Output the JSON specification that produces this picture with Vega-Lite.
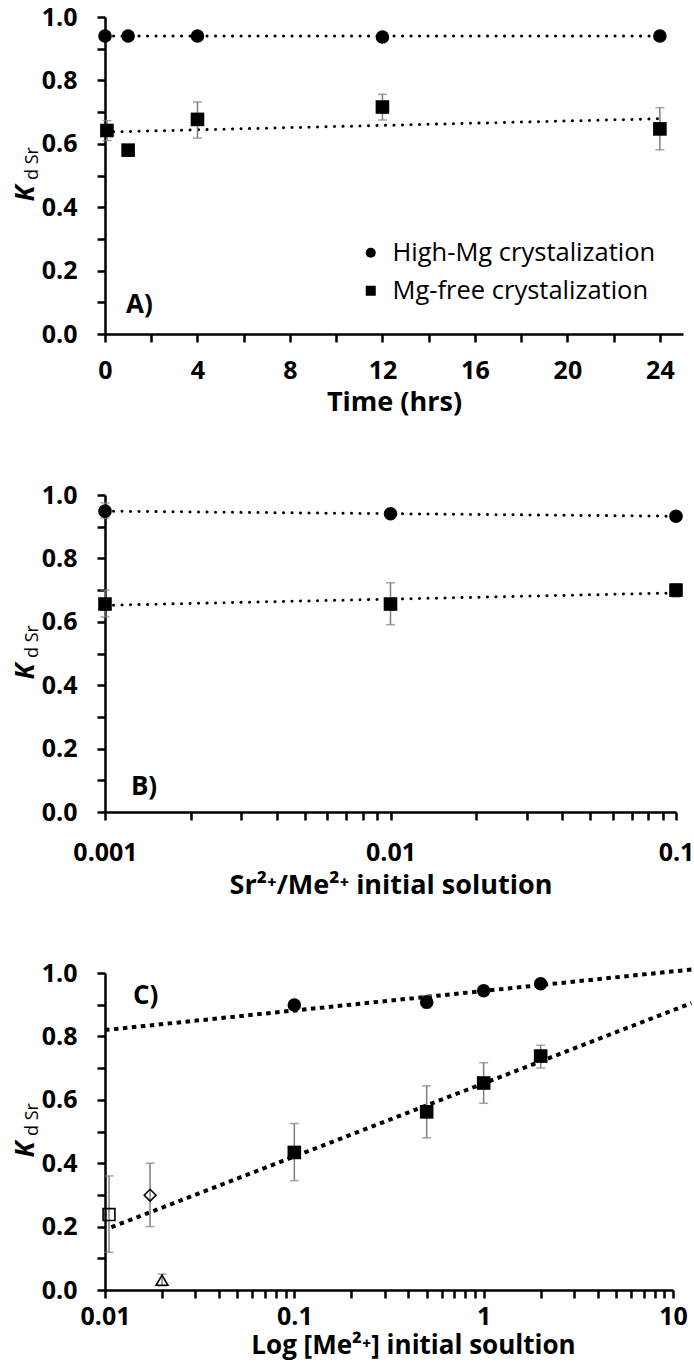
{
  "$schema": "https://vega.github.io/schema/vega-lite/v6.json",
  "background": "white",
  "padding": {"left": 12, "top": 5, "right": 0, "bottom": 4},
  "config": {
    "view": {"stroke": null},
    "font": "Open Sans",
    "axis": {
      "labelFont": "Open Sans", "labelFontWeight": "bold", "labelFontSize": 25, "labelColor": "black",
      "titleFont": "Open Sans", "titleFontWeight": "bold", "titleFontSize": 27, "titleColor": "black",
      "domainColor": "black", "domainWidth": 2.5, "tickColor": "black", "tickWidth": 2.5, "tickSize": 8,
      "grid": false, "labelOverlap": false, "labelFlush": false, "labelBound": false
    }
  },
  "datasets": {
    "a_pts": [
      {"series": "High-Mg crystalization", "x": 0, "y": 0.94},
      {"series": "High-Mg crystalization", "x": 1, "y": 0.94},
      {"series": "High-Mg crystalization", "x": 4, "y": 0.94},
      {"series": "High-Mg crystalization", "x": 12, "y": 0.937},
      {"series": "High-Mg crystalization", "x": 24, "y": 0.94},
      {"series": "Mg-free crystalization", "x": 0.083, "y": 0.642, "lo": 0.61, "hi": 0.673},
      {"series": "Mg-free crystalization", "x": 1, "y": 0.58},
      {"series": "Mg-free crystalization", "x": 4, "y": 0.677, "lo": 0.618, "hi": 0.732},
      {"series": "Mg-free crystalization", "x": 12, "y": 0.716, "lo": 0.675, "hi": 0.756},
      {"series": "Mg-free crystalization", "x": 24, "y": 0.647, "lo": 0.581, "hi": 0.714}
    ],
    "a_trend": [
      {"series": "High-Mg", "x": 0, "y": 0.94},
      {"series": "High-Mg", "x": 24, "y": 0.94},
      {"series": "Mg-free", "x": 0, "y": 0.637},
      {"series": "Mg-free", "x": 24, "y": 0.679}
    ],
    "b_pts": [
      {"series": "High-Mg crystalization", "x": 0.001, "y": 0.949, "lo": 0.927, "hi": 0.975},
      {"series": "High-Mg crystalization", "x": 0.01, "y": 0.941},
      {"series": "High-Mg crystalization", "x": 0.1, "y": 0.933},
      {"series": "Mg-free crystalization", "x": 0.001, "y": 0.656, "lo": 0.615, "hi": 0.7},
      {"series": "Mg-free crystalization", "x": 0.01, "y": 0.656, "lo": 0.591, "hi": 0.723},
      {"series": "Mg-free crystalization", "x": 0.1, "y": 0.7, "lo": 0.678, "hi": 0.72}
    ],
    "b_trend": [
      {"series": "High-Mg", "x": 0.001, "y": 0.949},
      {"series": "High-Mg", "x": 0.1, "y": 0.933},
      {"series": "Mg-free", "x": 0.001, "y": 0.652},
      {"series": "Mg-free", "x": 0.1, "y": 0.691}
    ],
    "c_pts": [
      {"kind": "High-Mg", "x": 0.1, "y": 0.899},
      {"kind": "High-Mg", "x": 0.5, "y": 0.908, "lo": 0.89, "hi": 0.929},
      {"kind": "High-Mg", "x": 1, "y": 0.944},
      {"kind": "High-Mg", "x": 2, "y": 0.966},
      {"kind": "Mg-free", "x": 0.1, "y": 0.434, "lo": 0.345, "hi": 0.525},
      {"kind": "Mg-free", "x": 0.5, "y": 0.562, "lo": 0.48, "hi": 0.644},
      {"kind": "Mg-free", "x": 1, "y": 0.653, "lo": 0.589, "hi": 0.717},
      {"kind": "Mg-free", "x": 2, "y": 0.738, "lo": 0.7, "hi": 0.772},
      {"kind": "sq", "x": 0.0105, "y": 0.238, "lo": 0.119, "hi": 0.36},
      {"kind": "dia", "x": 0.0173, "y": 0.299, "lo": 0.2, "hi": 0.4},
      {"kind": "tri", "x": 0.02, "y": 0.031, "lo": 0.013, "hi": 0.05}
    ],
    "c_trend": [
      {"series": "High-Mg", "x": 0.01, "y": 0.82},
      {"series": "High-Mg", "x": 12.5, "y": 1.011},
      {"series": "Mg-free", "x": 0.0108, "y": 0.198},
      {"series": "Mg-free", "x": 12.5, "y": 0.905}
    ]
  },
  "vconcat": [
    {
      "width": 578, "height": 317,
      "resolve": {"axis": {"y": "independent"}},
      "layer": [
        {
          "data": {"name": "a_trend"},
          "mark": {"type": "line", "color": "black", "strokeWidth": 3, "strokeDash": [0.1, 8.4], "strokeCap": "round"},
          "encoding": {
            "x": {"field": "x", "type": "quantitative", "scale": {"domain": [0, 25], "nice": false, "zero": false},
              "axis": {"title": "Time (hrs)", "values": [0, 2, 4, 6, 8, 10, 12, 14, 16, 18, 20, 22, 24],
                "labelExpr": "datum.value % 4 === 0 ? datum.label : ''", "labelPadding": 16, "titlePadding": 6}},
            "y": {"field": "y", "type": "quantitative", "scale": {"domain": [0, 1], "nice": false},
              "axis": {"orient": "left", "values": [0, 0.1, 0.2, 0.3, 0.4, 0.5, 0.6, 0.7, 0.8, 0.9, 1],
                "labelExpr": "indexof([0, 0.2, 0.4, 0.6, 0.8, 1], datum.value) >= 0 ? format(datum.value, '.1f') : ''",
                "labelPadding": 20, "title": "K", "titleFontStyle": "italic", "titleFontSize": 26,
                "titleX": -71.5, "titleY": 176, "titleAngle": 270, "titleAlign": "center", "titleBaseline": "alphabetic"}},
            "detail": {"field": "series"}
          }
        },
        {
          "data": {"name": "a_pts"},
          "transform": [{"filter": "isValid(datum.lo)"}],
          "mark": {"type": "rule", "color": "#7f7f7f", "strokeWidth": 1.5},
          "encoding": {
            "x": {"field": "x", "type": "quantitative"},
            "y": {"field": "lo", "type": "quantitative",
              "axis": {"orient": "left", "labels": false, "ticks": false, "domain": false, "title": "d Sr",
                "titleFontSize": 18, "titleFontWeight": "normal", "titleX": -68, "titleY": 146,
                "titleAngle": 270, "titleAlign": "center", "titleBaseline": "alphabetic"}},
            "y2": {"field": "hi"}
          }
        },
        {
          "data": {"name": "a_pts"},
          "transform": [{"filter": "isValid(datum.lo)"}, {"fold": ["lo", "hi"], "as": ["end", "v"]}],
          "mark": {"type": "tick", "orient": "horizontal", "color": "#7f7f7f", "size": 9, "thickness": 1.5},
          "encoding": {
            "x": {"field": "x", "type": "quantitative"},
            "y": {"field": "v", "type": "quantitative", "axis": null}
          }
        },
        {
          "data": {"name": "a_pts"},
          "mark": {"type": "point", "filled": true, "color": "black", "size": 185, "opacity": 1},
          "encoding": {
            "x": {"field": "x", "type": "quantitative"},
            "y": {"field": "y", "type": "quantitative", "axis": null},
            "shape": {"field": "series", "type": "nominal",
              "scale": {"domain": ["High-Mg crystalization", "Mg-free crystalization"], "range": ["circle", "square"]},
              "legend": {"orient": "none", "legendX": 253, "legendY": 223, "title": null, "padding": 0,
                "labelFont": "Open Sans", "labelFontSize": 25.5, "labelFontWeight": "normal", "labelColor": "black", "labelLimit": 0,
                "symbolSize": 100, "symbolFillColor": "black", "symbolStrokeColor": "black", "symbolStrokeWidth": 0,
                "symbolOpacity": 1, "rowPadding": 11, "labelOffset": 9}}
          }
        },
        {
          "data": {"values": [{}]},
          "mark": {"type": "text", "font": "Open Sans", "fontWeight": "bold", "fontSize": 26, "color": "black", "align": "center", "baseline": "middle"},
          "encoding": {
            "x": {"datum": 1.49, "type": "quantitative"},
            "y": {"datum": 0.09, "type": "quantitative", "axis": null},
            "text": {"value": "A)"}
          }
        }
      ]
    },
    {
      "width": 571, "height": 317,
      "resolve": {"axis": {"y": "independent"}},
      "layer": [
        {
          "data": {"name": "b_trend"},
          "mark": {"type": "line", "color": "black", "strokeWidth": 3, "strokeDash": [0.1, 8.4], "strokeCap": "round"},
          "encoding": {
            "x": {"field": "x", "type": "quantitative", "scale": {"type": "log", "domain": [0.001, 0.1], "nice": false},
              "axis": {"title": "Sr²⁺/Me²⁺ initial solution",
                "values": [0.001, 0.002, 0.003, 0.004, 0.005, 0.006, 0.007, 0.008, 0.009, 0.01, 0.02, 0.03, 0.04, 0.05, 0.06, 0.07, 0.08, 0.09, 0.1],
                "labelExpr": "datum.value == 0.001 ? '0.001' : datum.value == 0.01 ? '0.01' : datum.value == 0.1 ? '0.1' : ''",
                "labelPadding": 20, "titlePadding": 7}},
            "y": {"field": "y", "type": "quantitative", "scale": {"domain": [0, 1], "nice": false},
              "axis": {"orient": "left", "values": [0, 0.1, 0.2, 0.3, 0.4, 0.5, 0.6, 0.7, 0.8, 0.9, 1],
                "labelExpr": "indexof([0, 0.2, 0.4, 0.6, 0.8, 1], datum.value) >= 0 ? format(datum.value, '.1f') : ''",
                "labelPadding": 20, "title": "K", "titleFontStyle": "italic", "titleFontSize": 26,
                "titleX": -71.5, "titleY": 176, "titleAngle": 270, "titleAlign": "center", "titleBaseline": "alphabetic"}},
            "detail": {"field": "series"}
          }
        },
        {
          "data": {"name": "b_pts"},
          "transform": [{"filter": "isValid(datum.lo)"}],
          "mark": {"type": "rule", "color": "#7f7f7f", "strokeWidth": 1.5},
          "encoding": {
            "x": {"field": "x", "type": "quantitative"},
            "y": {"field": "lo", "type": "quantitative",
              "axis": {"orient": "left", "labels": false, "ticks": false, "domain": false, "title": "d Sr",
                "titleFontSize": 18, "titleFontWeight": "normal", "titleX": -68, "titleY": 146,
                "titleAngle": 270, "titleAlign": "center", "titleBaseline": "alphabetic"}},
            "y2": {"field": "hi"}
          }
        },
        {
          "data": {"name": "b_pts"},
          "transform": [{"filter": "isValid(datum.lo)"}, {"fold": ["lo", "hi"], "as": ["end", "v"]}],
          "mark": {"type": "tick", "orient": "horizontal", "color": "#7f7f7f", "size": 9, "thickness": 1.5},
          "encoding": {
            "x": {"field": "x", "type": "quantitative"},
            "y": {"field": "v", "type": "quantitative", "axis": null}
          }
        },
        {
          "data": {"name": "b_pts"},
          "mark": {"type": "point", "filled": true, "color": "black", "size": 185, "opacity": 1},
          "encoding": {
            "x": {"field": "x", "type": "quantitative"},
            "y": {"field": "y", "type": "quantitative", "axis": null},
            "shape": {"field": "series", "type": "nominal",
              "scale": {"domain": ["High-Mg crystalization", "Mg-free crystalization"], "range": ["circle", "square"]},
              "legend": null}
          }
        },
        {
          "data": {"values": [{}]},
          "mark": {"type": "text", "font": "Open Sans", "fontWeight": "bold", "fontSize": 26, "color": "black", "align": "center", "baseline": "middle"},
          "encoding": {
            "x": {"datum": 0.00137, "type": "quantitative"},
            "y": {"datum": 0.08, "type": "quantitative", "axis": null},
            "text": {"value": "B)"}
          }
        }
      ]
    },
    {
      "width": 568, "height": 317,
      "resolve": {"axis": {"y": "independent"}},
      "layer": [
        {
          "data": {"name": "c_trend"},
          "mark": {"type": "line", "color": "black", "strokeWidth": 4, "strokeDash": [4.5, 4.5]},
          "encoding": {
            "x": {"field": "x", "type": "quantitative", "scale": {"type": "log", "domain": [0.01, 10], "nice": false},
              "axis": {"title": "Log [Me²⁺] initial soultion",
                "values": [0.01, 0.02, 0.03, 0.04, 0.05, 0.06, 0.07, 0.08, 0.09, 0.1, 0.2, 0.3, 0.4, 0.5, 0.6, 0.7, 0.8, 0.9, 1, 2, 3, 4, 5, 6, 7, 8, 9, 10],
                "labelExpr": "datum.value == 0.01 ? '0.01' : datum.value == 0.1 ? '0.1' : datum.value == 1 ? '1' : datum.value == 10 ? '10' : ''",
                "labelPadding": 6, "titlePadding": 3, "titleFontSize": 26, "titleX": 308}},
            "y": {"field": "y", "type": "quantitative", "scale": {"domain": [0, 1], "nice": false},
              "axis": {"orient": "left", "values": [0, 0.1, 0.2, 0.3, 0.4, 0.5, 0.6, 0.7, 0.8, 0.9, 1],
                "labelExpr": "indexof([0, 0.2, 0.4, 0.6, 0.8, 1], datum.value) >= 0 ? format(datum.value, '.1f') : ''",
                "labelPadding": 20, "title": "K", "titleFontStyle": "italic", "titleFontSize": 26,
                "titleX": -71.5, "titleY": 176, "titleAngle": 270, "titleAlign": "center", "titleBaseline": "alphabetic"}},
            "detail": {"field": "series"}
          }
        },
        {
          "data": {"name": "c_pts"},
          "transform": [{"filter": "isValid(datum.lo)"}],
          "mark": {"type": "rule", "color": "#7f7f7f", "strokeWidth": 1.5},
          "encoding": {
            "x": {"field": "x", "type": "quantitative"},
            "y": {"field": "lo", "type": "quantitative",
              "axis": {"orient": "left", "labels": false, "ticks": false, "domain": false, "title": "d Sr",
                "titleFontSize": 18, "titleFontWeight": "normal", "titleX": -68, "titleY": 146,
                "titleAngle": 270, "titleAlign": "center", "titleBaseline": "alphabetic"}},
            "y2": {"field": "hi"}
          }
        },
        {
          "data": {"name": "c_pts"},
          "transform": [{"filter": "isValid(datum.lo)"}, {"fold": ["lo", "hi"], "as": ["end", "v"]}],
          "mark": {"type": "tick", "orient": "horizontal", "color": "#7f7f7f", "size": 9, "thickness": 1.5},
          "encoding": {
            "x": {"field": "x", "type": "quantitative"},
            "y": {"field": "v", "type": "quantitative", "axis": null}
          }
        },
        {
          "data": {"name": "c_pts"},
          "transform": [{"filter": "datum.kind == 'High-Mg' || datum.kind == 'Mg-free'"}],
          "mark": {"type": "point", "filled": true, "color": "black", "size": 185, "opacity": 1},
          "encoding": {
            "x": {"field": "x", "type": "quantitative"},
            "y": {"field": "y", "type": "quantitative", "axis": null},
            "shape": {"field": "kind", "type": "nominal",
              "scale": {"domain": ["High-Mg", "Mg-free", "sq", "dia", "tri"], "range": ["circle", "square", "square", "diamond", "triangle-up"]},
              "legend": null}
          }
        },
        {
          "data": {"name": "c_pts"},
          "transform": [{"filter": "datum.kind != 'High-Mg' && datum.kind != 'Mg-free'"}],
          "mark": {"type": "point", "filled": false, "color": "black", "size": 140, "strokeWidth": 1.6, "opacity": 1},
          "encoding": {
            "x": {"field": "x", "type": "quantitative"},
            "y": {"field": "y", "type": "quantitative", "axis": null},
            "shape": {"field": "kind", "type": "nominal",
              "scale": {"domain": ["High-Mg", "Mg-free", "sq", "dia", "tri"], "range": ["circle", "square", "square", "diamond", "triangle-up"]},
              "legend": null}
          }
        },
        {
          "data": {"values": [{}]},
          "mark": {"type": "text", "font": "Open Sans", "fontWeight": "bold", "fontSize": 26, "color": "black", "align": "center", "baseline": "middle"},
          "encoding": {
            "x": {"datum": 0.0164, "type": "quantitative"},
            "y": {"datum": 0.926, "type": "quantitative", "axis": null},
            "text": {"value": "C)"}
          }
        }
      ]
    }
  ],
  "spacing": 161,
  "bounds": "flush",
  "resolve": {
    "scale": {"x": "independent", "y": "independent", "shape": "independent"},
    "axis": {"x": "independent", "y": "independent"},
    "legend": {"shape": "independent"}
  }
}
